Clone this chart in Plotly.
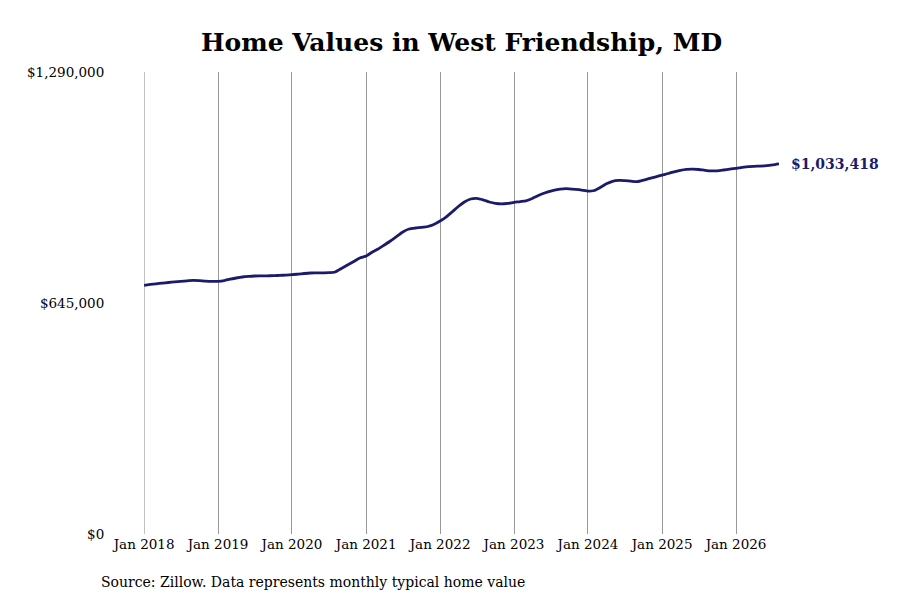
import plotly.graph_objects as go
import pandas as pd

dates = pd.date_range("2018-01-01", "2026-08-01", freq="MS")

values = [
    694400, 696700, 698600, 700600, 702200, 703900, 705600, 707000, 708400, 707500, 705900, 705300,
    705600, 707800, 711500, 714800, 717600, 719300, 720400, 720700, 721000, 721200, 722100, 722900,
    724000, 725700, 727400, 728800, 729000, 729300, 729600, 731600, 741300, 751100, 760900, 770700,
    776200, 787400, 795800, 807000, 818100, 830700, 843200, 851600, 854400, 856100, 858600, 864200,
    874000, 885700, 899100, 914500, 927000, 935400, 937300, 933200, 927000, 923100, 921700, 923100,
    925900, 928100, 930400, 936800, 944900, 952100, 957200, 961600, 963900, 963900, 962500, 960500,
    957200, 959100, 967500, 977800, 984800, 987300, 986800, 985100, 984000, 987900, 992900, 997400,
    1002100, 1006600, 1011300, 1015300, 1018000, 1018900, 1017800, 1015500, 1013900, 1014100, 1016400, 1018900,
    1021100, 1023600, 1025900, 1026700, 1027200, 1028400, 1030600, 1033418,
]

y_ticks = [0, 645000, 1290000]
y_tick_labels = ["$0", "$645,000", "$1,290,000"]
x_ticks = pd.date_range("2018-01-01", "2026-01-01", freq="YS")
x_tick_labels = [f"Jan {d.year}" for d in x_ticks]

title_text = "Home Values in West Friendship, MD"
source_text = "Source: Zillow. Data represents monthly typical home value"
last_label = "$1,033,418"

line_color = "#1b1a6b"
grid_color = "#999999"
font_family = "DejaVu Serif"

fig = go.Figure()

# gridline for the first tick, which sits on the axis edge
fig.add_shape(type="line", xref="x", yref="paper", x0=x_ticks[0], x1=x_ticks[0],
              y0=0, y1=1, line=dict(color=grid_color, width=1), layer="below")

fig.add_trace(go.Scatter(
    x=dates, y=values, mode="lines",
    line=dict(color=line_color, width=2.8, shape="spline", smoothing=0.6),
    hoverinfo="skip", showlegend=False,
))

fig.add_annotation(
    x=dates[-1], y=values[-1], text=f"<b>{last_label}</b>",
    showarrow=False, xanchor="left", yanchor="middle", xshift=10,
    font=dict(family=font_family, size=14, color=line_color),
)

fig.add_annotation(
    xref="paper", yref="paper", x=-0.0709, y=-0.104,
    xanchor="left", yanchor="middle", text=source_text, showarrow=False,
    font=dict(family=font_family, size=14, color="black"),
)

fig.update_layout(
    width=900, height=600,
    margin=dict(l=136, r=129, t=64, b=74),
    paper_bgcolor="white", plot_bgcolor="white",
    title=dict(text=f"<b>{title_text}</b>", x=0.5, xref="paper", xanchor="center",
               y=1 - 34 / 600, yref="container", yanchor="middle",
               font=dict(family=font_family, size=25, color="black")),
    font=dict(family=font_family, size=13.5, color="black"),
    xaxis=dict(
        range=[pd.Timestamp("2017-12-31 12:00"), dates[-1]],
        tickvals=x_ticks, ticktext=x_tick_labels,
        showgrid=True, gridcolor=grid_color, gridwidth=1,
        showline=False, zeroline=False, ticks="",
        tickfont=dict(family=font_family, size=13.5),
    ),
    yaxis=dict(
        range=[0, 1290000],
        tickvals=y_ticks, ticktext=y_tick_labels,
        showgrid=False, showline=False, zeroline=False,
        ticks="outside", ticklen=36, tickcolor="rgba(0,0,0,0)",
        tickfont=dict(family=font_family, size=13.5),
    ),
)

fig.write_html("out.html")
